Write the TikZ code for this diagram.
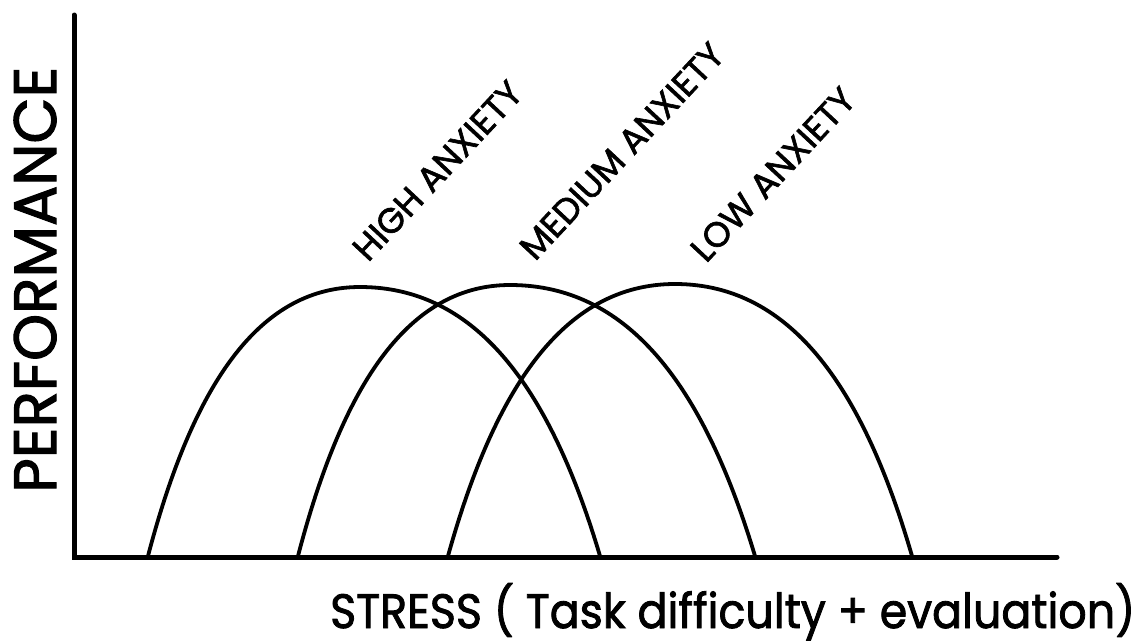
\documentclass[tikz,border=0pt]{standalone}
\usepackage{fontspec}
\setmainfont{Poppins}
\newfontfamily\thickfont{Poppins}[FakeBold=1.8]
\begin{document}
\begin{tikzpicture}[x=1pt,y=-1pt,
  axisline/.style={line width=5pt,line cap=round},
  curveline/.style={line width=3.8pt},
  lab/.style={inner sep=0pt,anchor=base west,rotate=47,font=\thickfont\fontsize{35}{35}\selectfont},
  big/.style={inner sep=0pt,anchor=base west,font=\thickfont}]
\useasboundingbox (0,0) rectangle (1140,640);
% axes
\coordinate (top) at (74,15);
\coordinate (origin) at (74,557);
\coordinate (xend) at (1057,557);
\draw[axisline] (top) -- (origin) -- (xend);
% high anxiety
\draw[curveline] (148,556) .. controls (190.4,394.6) and (254,287) .. (360,287)
  .. controls (480,287) and (552,394.6) .. (600,556);
% medium anxiety
\draw[curveline] (298,556) .. controls (340.4,393.4) and (404,285) .. (510,285)
  .. controls (632.5,285) and (706,393.4) .. (755,556);
% low anxiety
\draw[curveline] (448,556) .. controls (493.4,392.8) and (561.5,284) .. (675,284)
  .. controls (793.5,284) and (864.6,392.8) .. (912,556);
% labels
\node[lab] (high) at (368,263) {HIGH ANXIETY};
\node[lab] (med) at (535,262) {MEDIUM ANXIETY};
\node[lab] (low) at (706,264) {LOW ANXIETY};
\node[big,rotate=90] (perf) at (56,493) {\resizebox{426pt}{!}{PERFORMANCE}};
\node[big] (stress) at (330,628) {\resizebox{805pt}{45pt}{STRESS ( Task difficulty + evaluation)}};
\end{tikzpicture}
\end{document}
